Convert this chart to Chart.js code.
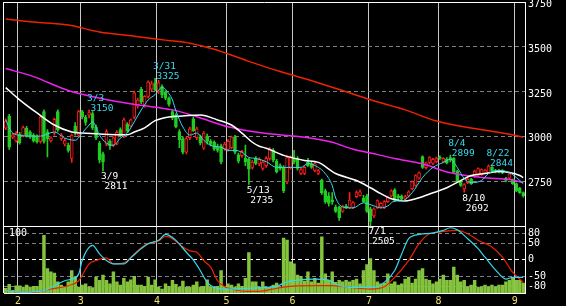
<!DOCTYPE html>
<html>
<head>
<meta charset="utf-8">
<script src="https://cdn.jsdelivr.net/npm/chart.js@4/dist/chart.umd.min.js"></script>
<style>
  html, body { margin: 0; padding: 0; background: #000; }
  #myChart { display: block; }
</style>
</head>
<body>
<canvas id="myChart" width="566" height="306"></canvas>
<script>
// trading days shown, month -> days
const monthDays = [
  [1, [26, 27, 28, 31]],
  [2, [1, 2, 3, 4, 7, 8, 9, 10, 14, 15, 16, 17, 18, 21, 22, 24, 25, 28]],
  [3, [1, 2, 3, 4, 7, 8, 9, 10, 11, 14, 15, 16, 17, 18, 22, 23, 24, 25, 28, 29, 30, 31]],
  [4, [1, 4, 5, 6, 7, 8, 11, 12, 13, 14, 15, 18, 19, 20, 21, 22, 25, 26, 27, 28]],
  [5, [2, 6, 9, 10, 11, 12, 13, 16, 17, 18, 19, 20, 23, 24, 25, 26, 27, 30, 31]],
  [6, [1, 2, 3, 6, 7, 8, 9, 10, 13, 14, 15, 16, 17, 20, 21, 22, 23, 24, 27, 28, 29, 30]],
  [7, [1, 4, 5, 6, 7, 8, 11, 12, 13, 14, 15, 19, 20, 21, 22, 25, 26, 27, 28, 29]],
  [8, [1, 2, 3, 4, 5, 8, 9, 10, 12, 15, 16, 17, 18, 19, 22, 23, 24, 25, 26, 29, 30, 31]],
  [9, [1, 2, 5]]
]

const open = [
  3049, 3116, 2998, 2977, 3015, 3008, 3048, 3026, 3010, 3005,
  2975, 3140, 3028, 2978, 3020, 3140, 2990, 2960, 2955, 2880,
  3060, 3010, 3140, 3110, 3120, 3130, 3055, 2965, 2905, 2960,
  2975, 2955, 2960, 3040, 3000, 3070, 3060, 3110, 3170, 3265,
  3175, 3225, 3265, 3300, 3250, 3280, 3250, 3215, 3140, 3120,
  3030, 2990, 2915, 2995, 3100, 2995, 3000, 2937, 3005, 2975,
  2970, 2945, 2950, 2935, 2930, 2940, 3000, 2900, 2895, 2880,
  2875, 2830, 2880, 2850, 2825, 2840, 2880, 2925, 2865, 2840,
  2830, 2750, 2830, 2880, 2880, 2797, 2797, 2858, 2852, 2813,
  2797, 2760, 2700, 2670, 2650, 2610, 2610, 2585, 2615, 2605,
  2608, 2668, 2675, 2660, 2670, 2600, 2560, 2605, 2610, 2608,
  2640, 2672, 2705, 2672, 2670, 2655, 2672, 2712, 2730, 2770,
  2890, 2828, 2858, 2853, 2860, 2885, 2860, 2876, 2885, 2880,
  2810, 2755, 2710, 2745, 2765, 2780, 2785, 2790, 2800, 2800,
  2830, 2815, 2815, 2812, 2770, 2770, 2760, 2740, 2715, 2690
]
const high = [
  3100, 3125, 3020, 3030, 3025, 3060, 3058, 3035, 3018, 3012,
  3120, 3150, 3040, 3000, 3105, 3150, 3020, 2990, 2965, 3015,
  3080, 3148, 3148, 3120, 3150, 3140, 3065, 2975, 2915, 3040,
  2985, 3000, 3035, 3050, 3105, 3080, 3100, 3255, 3215, 3275,
  3230, 3312, 3310, 3325, 3315, 3290, 3258, 3222, 3150, 3130,
  3040, 3000, 3000, 3055, 3110, 3055, 3010, 3030, 3015, 2985,
  2978, 2960, 2960, 2970, 2985, 3005, 3008, 2910, 2925, 2955,
  2880, 2870, 2890, 2885, 2865, 2890, 2940, 2935, 2875, 2850,
  2840, 2895, 2895, 2925, 2890, 2825, 2840, 2880, 2860, 2858,
  2820, 2765, 2710, 2690, 2690, 2620, 2615, 2620, 2625, 2690,
  2640, 2700, 2705, 2675, 2680, 2610, 2605, 2650, 2635, 2645,
  2670, 2705, 2712, 2680, 2678, 2675, 2700, 2755, 2790, 2805,
  2895, 2860, 2890, 2880, 2887, 2895, 2885, 2885, 2899, 2885,
  2815, 2760, 2740, 2770, 2770, 2815, 2828, 2822, 2820, 2844,
  2835, 2820, 2820, 2818, 2775, 2800, 2765, 2745, 2720, 2695
]
const low = [
  3040, 2930, 2990, 2970, 2960, 3000, 2998, 2992, 2970, 2965,
  2965, 2965, 2888, 2970, 3010, 3030, 2980, 2950, 2915, 2858,
  3010, 3000, 3100, 3065, 3105, 3040, 2985, 2855, 2811, 2950,
  2930, 2945, 2955, 3000, 2995, 3025, 3055, 3100, 3160, 3185,
  3165, 3215, 3255, 3255, 3240, 3218, 3205, 3170, 3095, 3050,
  2940, 2905, 2905, 2985, 3030, 2985, 2955, 2930, 2960, 2950,
  2925, 2915, 2850, 2925, 2920, 2935, 2905, 2855, 2885, 2840,
  2735, 2820, 2845, 2840, 2815, 2830, 2870, 2860, 2800, 2815,
  2690, 2740, 2820, 2850, 2815, 2790, 2790, 2835, 2825, 2805,
  2790, 2680, 2630, 2615, 2625, 2580, 2535, 2580, 2600, 2600,
  2600, 2660, 2670, 2635, 2580, 2505, 2550, 2600, 2605, 2600,
  2635, 2665, 2640, 2650, 2645, 2648, 2665, 2705, 2725, 2765,
  2825, 2820, 2850, 2845, 2855, 2875, 2855, 2850, 2860, 2800,
  2745, 2725, 2692, 2740, 2735, 2775, 2780, 2785, 2795, 2795,
  2808, 2800, 2800, 2795, 2750, 2765, 2735, 2695, 2685, 2665
]
const close = [
  3088, 2942, 3012, 3020, 2968, 3052, 3005, 2998, 2978, 2972,
  3110, 2975, 2990, 2995, 3097, 3040, 3010, 2980, 2925, 3010,
  3020, 3140, 3112, 3080, 3135, 3050, 2995, 2870, 2860, 3030,
  2950, 2995, 3025, 3005, 3095, 3035, 3095, 3245, 3205, 3195,
  3225, 3305, 3295, 3262, 3300, 3235, 3215, 3180, 3105, 3055,
  2985, 2915, 2990, 3045, 3035, 3045, 2965, 3021, 2975, 2960,
  2935, 2925, 2862, 2960, 2975, 3000, 2915, 2865, 2920, 2860,
  2820, 2860, 2852, 2875, 2860, 2880, 2930, 2870, 2805, 2825,
  2700, 2885, 2885, 2860, 2825, 2818, 2830, 2840, 2830, 2852,
  2813, 2690, 2640, 2630, 2640, 2585, 2550, 2615, 2605, 2648,
  2635, 2690, 2695, 2640, 2585, 2530, 2600, 2645, 2630, 2640,
  2665, 2700, 2648, 2660, 2655, 2668, 2695, 2750, 2785, 2800,
  2830, 2855, 2885, 2875, 2882, 2880, 2880, 2855, 2870, 2805,
  2750, 2730, 2735, 2765, 2740, 2810, 2823, 2818, 2815, 2838,
  2812, 2805, 2805, 2800, 2758, 2795, 2740, 2700, 2690, 2672
]
// volume, lower panel scale 0-100
const volume = [
  7, 13, 4, 11, 11, 9, 12, 9, 10, 10,
  19, 87, 37, 32, 30, 17, 12, 9, 17, 34,
  24, 9, 12, 14, 9, 8, 24, 19, 27, 19,
  14, 32, 17, 12, 22, 17, 20, 25, 12, 12,
  10, 24, 12, 20, 9, 6, 14, 10, 19, 13,
  9, 18, 9, 9, 12, 17, 9, 10, 20, 9,
  9, 10, 34, 10, 14, 12, 9, 14, 10, 22,
  61, 17, 17, 9, 17, 9, 9, 12, 15, 9,
  83, 80, 47, 44, 27, 25, 18, 32, 17, 22,
  15, 85, 29, 19, 32, 16, 19, 17, 19, 17,
  19, 21, 14, 34, 43, 52, 34, 17, 14, 15,
  29, 14, 17, 12, 14, 21, 24, 15, 21, 34,
  37, 21, 19, 14, 17, 21, 27, 19, 19, 39,
  27, 17, 19, 9, 12, 19, 9, 9, 12, 9,
  12, 9, 12, 12, 17, 19, 22, 19, 19, 15
]

// moving averages
const ma5Dates = ['1/26', '1/28', '2/3', '2/9', '2/16', '2/21', '2/25', '3/1', '3/3', '3/4', '3/8', '3/10', '3/14', '3/16', '3/18', '3/23', '3/25', '3/29', '3/31', '4/4', '4/6', '4/7', '4/8', '4/12', '4/14', '4/18', '4/20', '4/22', '4/27', '5/2', '5/9', '5/11', '5/13', '5/17', '5/20', '5/25', '5/31', '6/3', '6/7', '6/10', '6/14', '6/16', '6/17', '6/21', '6/24', '6/29', '7/4', '7/6', '7/8', '7/12', '7/14', '7/20', '7/25', '7/28', '8/2', '8/4', '8/8', '8/10', '8/15', '8/18', '8/22', '8/25', '8/30', '9/1', '9/5']
const ma5Values = [3094, 3021, 3005, 3004, 3027, 2993, 2981, 3021, 3066, 3083, 3010, 2965, 2953, 2993, 3021, 3083, 3150, 3205, 3235, 3275, 3240, 3205, 3145, 3055, 3010, 3021, 2981, 2953, 2942, 2925, 2925, 2914, 2886, 2880, 2862, 2830, 2830, 2830, 2852, 2830, 2796, 2729, 2660, 2610, 2605, 2633, 2616, 2605, 2616, 2644, 2644, 2689, 2774, 2830, 2858, 2875, 2830, 2768, 2746, 2757, 2796, 2813, 2802, 2774, 2740]

const ma25Dates = ['1/26', '2/1', '2/8', '2/16', '2/24', '3/1', '3/9', '3/18', '3/23', '3/28', '3/31', '4/6', '4/12', '4/19', '4/26', '5/6', '5/11', '5/16', '5/18', '5/20', '5/27', '6/6', '6/10', '6/17', '6/27', '7/1', '7/6', '7/11', '7/15', '7/22', '7/28', '8/3', '8/9', '8/15', '8/19', '8/25', '8/30', '9/2', '9/5']
const ma25Values = [3274, 3206, 3133, 3066, 3027, 3021, 3015, 3012, 3027, 3050, 3090, 3111, 3116, 3122, 3094, 3066, 3021, 2970, 2948, 2937, 2897, 2869, 2858, 2796, 2757, 2717, 2684, 2656, 2644, 2661, 2689, 2717, 2757, 2785, 2796, 2807, 2802, 2785, 2774]

const ma75Dates = ['1/26', '2/7', '2/22', '3/8', '3/24', '4/7', '4/18', '5/2', '5/19', '6/6', '6/16', '6/24', '7/1', '7/12', '7/25', '8/3', '8/18', '8/31', '9/5']
const ma75Values = [3380, 3335, 3258, 3215, 3178, 3150, 3112, 3056, 3021, 2998, 2970, 2931, 2910, 2880, 2850, 2805, 2774, 2760, 2745]

const ma200Dates = ['1/26', '2/7', '2/22', '3/8', '3/23', '4/5', '4/14', '4/25', '5/13', '5/26', '6/9', '6/22', '7/1', '7/15', '7/29', '8/15', '8/26', '9/5']
const ma200Values = [3656, 3639, 3622, 3583, 3560, 3538, 3521, 3487, 3420, 3363, 3307, 3251, 3206, 3150, 3088, 3049, 3021, 2998]

// oscillators in the lower panel (-100..100)
const oscCyanDates = ['1/26', '1/28', '2/3', '2/8', '2/10', '2/16', '2/21', '2/24', '2/28', '3/1', '3/4', '3/8', '3/10', '3/14', '3/17', '3/22', '3/25', '3/29', '4/1', '4/5', '4/6', '4/8', '4/13', '4/15', '4/19', '4/21', '4/25', '4/28', '5/6', '5/16', '5/25', '5/27', '6/2', '6/9', '6/15', '6/17', '6/23', '6/29', '7/4', '7/7', '7/12', '7/14', '7/19', '7/22', '7/28', '8/2', '8/4', '8/8', '8/12', '8/17', '8/19', '8/24', '8/29', '8/31', '9/5']
const oscCyanValues = [-91, -96, -98, -96, -93, -78, -63, -58, -43, -2, 44, 18, -2, -12, -12, 6, 34, 49, 59, 77, 74, 59, 23, 0, -32, -68, -83, -88, -88, -85, -80, -70, -61, -58, -61, -73, -83, -83, -83, -68, -32, 18, 64, 77, 81, 89, 97, 91, 64, 34, 8, -30, -58, -53, -53]

const oscRedDates = ['1/26', '2/1', '2/7', '2/15', '2/22', '2/28', '3/3', '3/7', '3/10', '3/14', '3/17', '3/23', '3/28', '4/1', '4/5', '4/7', '4/12', '4/14', '4/18', '4/20', '4/22', '4/26', '4/28', '5/6', '5/12', '5/18', '5/24', '5/27', '6/9', '6/16', '6/23', '7/1', '7/7', '7/12', '7/19', '7/22', '7/27', '8/1', '8/8', '8/12', '8/17', '8/23', '8/26', '8/31', '9/5']
const oscRedValues = [-91, -98, -98, -88, -78, -63, -12, -2, 6, -12, -9, 18, 44, 57, 71, 64, 39, 27, 23, -2, -22, -63, -81, -88, -95, -95, -88, -82, -78, -78, -83, -88, -81, -52, -2, 49, 79, 84, 89, 79, 59, 39, 8, -38, -68]

// highs / lows written on the chart
const markDates = ['3/3', '3/9', '3/31', '5/13', '7/1', '8/4', '8/10', '8/22']
const markPrices = [3150, 2811, 3325, 2735, 2505, 2899, 2692, 2844]
const markKinds = ['high', 'low', 'high', 'low', 'low', 'high', 'low', 'high']

const priceTicks = [2500, 2750, 3000, 3250, 3500, 3750]
const oscTicks = [-100, -80, -50, 0, 50, 80, 100]

const RED = '#ff1c1c'
const GREEN = '#22cc22'
const CYAN = '#38d8ee'
const MONO = 'DejaVu Sans Mono'

const dates = []
const monthFirst = {}
monthDays.forEach(([m, days], k) => {
  days.forEach((d, j) => {
    if (j === 0 && k > 0) monthFirst[dates.length] = m
    dates.push(m + '/' + d)
  })
})

const pts = (ds, vs) => ds.map((d, k) => ({ x: d, y: vs[k] }))
const isUp = i => close[i] >= open[i]

const lineSet = (label, data, color, width, axis, order) => ({
  type: 'line', label, data, yAxisID: axis, borderColor: color, borderWidth: width,
  pointRadius: 0, fill: false, cubicInterpolationMode: 'monotone', order
})

// no extra room for half labels at the ends of the axes
const noPad = s => { s.paddingTop = 0; s.paddingBottom = 0; s.paddingLeft = 0; s.paddingRight = 0 }

const marksPlugin = {
  id: 'marks',
  afterDatasetsDraw(chart) {
    const { ctx, scales } = chart
    ctx.save()
    ctx.font = '9.5px ' + MONO
    ctx.textBaseline = 'alphabetic'
    markDates.forEach((d, k) => {
      const px = scales.x.getPixelForValue(dates.indexOf(d))
      const py = scales.y.getPixelForValue(markPrices[k])
      if (markKinds[k] === 'high') {
        ctx.fillStyle = CYAN
        ctx.fillText(d, px - 2, py - 9)
        ctx.fillText(String(markPrices[k]), px + 1.5, py + 1)
      } else {
        ctx.fillStyle = '#ffffff'
        ctx.fillText(d, px - 2, py + 8.5)
        ctx.fillText(String(markPrices[k]), px + 1.5, py + 18.5)
      }
    })
    ctx.fillStyle = '#ffffff'
    ctx.font = '10px ' + MONO
    ctx.fillText('100', chart.chartArea.left + 5, scales.yv.getPixelForValue(100) + 9)
    ctx.restore()
  }
}

const isEdge = (v, edges) => edges.includes(v)

new Chart(document.getElementById('myChart'), {
  type: 'bar',
  data: {
    labels: dates,
    datasets: [
      lineSet('MA5', pts(ma5Dates, ma5Values), CYAN, 1, 'y', 1),
      lineSet('MA25', pts(ma25Dates, ma25Values), '#ffffff', 1.5, 'y', 2),
      lineSet('MA75', pts(ma75Dates, ma75Values), '#ee22ee', 1.5, 'y', 3),
      lineSet('MA200', pts(ma200Dates, ma200Values), '#ee2200', 1.5, 'y', 4),
      {
        type: 'bar', label: 'body', yAxisID: 'y', order: 5,
        data: dates.map((d, i) => [open[i], close[i]]),
        backgroundColor: c => isUp(c.dataIndex) ? '#000000' : GREEN,
        borderColor: c => isUp(c.dataIndex) ? RED : GREEN,
        borderWidth: 1, borderSkipped: false, barThickness: 3, minBarLength: 1, grouped: false
      },
      {
        type: 'bar', label: 'wick', yAxisID: 'y', order: 6,
        data: dates.map((d, i) => [low[i], high[i]]),
        backgroundColor: c => isUp(c.dataIndex) ? RED : GREEN,
        borderWidth: 0, barThickness: 1, grouped: false
      },
      lineSet('oscCyan', pts(oscCyanDates, oscCyanValues), CYAN, 1.2, 'yo', 7),
      lineSet('oscRed', pts(oscRedDates, oscRedValues), '#ee2200', 1.2, 'yo', 8),
      {
        type: 'bar', label: 'volume', yAxisID: 'yv', order: 9,
        data: volume, backgroundColor: '#84c43c', barThickness: 2.8, grouped: false
      }
    ]
  },
  options: {
    responsive: false,
    animation: false,
    devicePixelRatio: 1,
    layout: { padding: { left: 4, top: 2, right: 0, bottom: 0 } },
    plugins: { legend: { display: false }, tooltip: { enabled: false } },
    scales: {
      x: {
        offset: true,
        grid: {
          offset: true,
          drawTicks: false,
          color: c => (c.index === undefined || c.index === 0) ? '#ffffff' : (monthFirst[c.index] ? '#c8c8c8' : 'rgba(0,0,0,0)'),
          lineWidth: c => (c.index === undefined || c.index === 0 || monthFirst[c.index]) ? 1 : 0
        },
        border: { display: false },
        ticks: {
          autoSkip: false, maxRotation: 0, padding: 2, labelOffset: -1.5,
          color: '#eee070', font: { family: MONO, size: 10 },
          callback: (v, i) => monthFirst[i] ? String(monthFirst[i]) : ''
        },
        afterFit: s => { s.height = 13; noPad(s) }
      },
      y: {
        position: 'right', stack: 'right', stackWeight: 224, weight: 0,
        min: 2500, max: 3750,
        afterBuildTicks: s => { s.ticks = priceTicks.map(v => ({ value: v })) },
        ticks: {
          autoSkip: false, padding: 3, labelOffset: 2, color: '#ffffff', font: { family: MONO, size: 10 },
          callback: v => v === 2500 ? '' : String(v)
        },
        grid: {
          drawTicks: false,
          color: c => (!c.tick || isEdge(c.tick.value, [2500, 3750])) ? '#ffffff' : '#808080'
        },
        border: {
          display: true, color: '#ffffff',
          dash: c => (!c.tick || isEdge(c.tick.value, [2500, 3750])) ? [] : [4, 3]
        },
        afterFit: s => { s.width = 41; noPad(s) }
      },
      yo: {
        position: 'right', stack: 'right', stackWeight: 66, weight: 1,
        min: -100, max: 100,
        afterBuildTicks: s => { s.ticks = oscTicks.map(v => ({ value: v })) },
        ticks: {
          autoSkip: false, padding: 3, color: '#ffffff', font: { family: MONO, size: 10 },
          callback: v => (v === 100 || v === -100) ? '' : String(v)
        },
        grid: {
          drawTicks: false,
          color: c => (!c.tick || isEdge(c.tick.value, [-100, 0, 100])) ? '#ffffff' : '#808080'
        },
        border: {
          display: true, color: '#ffffff',
          dash: c => (!c.tick || isEdge(c.tick.value, [-100, 100])) ? [] : [4, 3]
        },
        afterFit: s => { s.width = 41; noPad(s) }
      },
      yl: { position: 'left', stack: 'left', stackWeight: 224, weight: 1, display: false, min: 2500, max: 3750 },
      yv: { position: 'left', stack: 'left', stackWeight: 66, weight: 0, display: false, min: 0, max: 100 }
    }
  },
  plugins: [marksPlugin]
})
</script>
</body>
</html>
